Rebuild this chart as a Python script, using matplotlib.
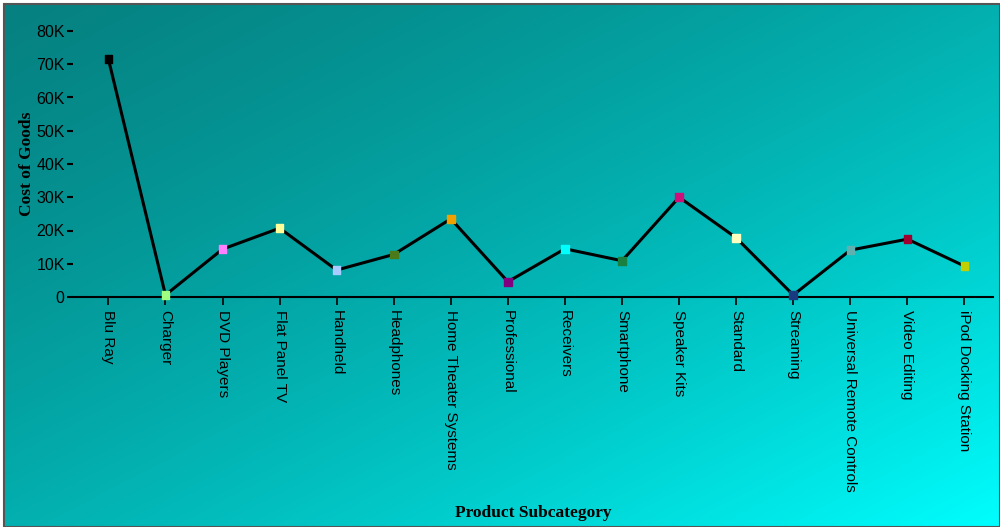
import numpy as np
import matplotlib
matplotlib.use("Agg")
import matplotlib.pyplot as plt
from matplotlib.patches import Rectangle
from matplotlib.ticker import FuncFormatter

# data
subcategories = ["Blu Ray", "Charger", "DVD Players", "Flat Panel TV", "Handheld",
                 "Headphones", "Home Theater Systems", "Professional", "Receivers",
                 "Smartphone", "Speaker Kits", "Standard", "Streaming",
                 "Universal Remote Controls", "Video Editing", "iPod Docking Station"]
cost_of_goods = [71600, 600, 14400, 20700, 8100, 12800, 23500, 4600, 14500,
                 10900, 30000, 17800, 600, 14100, 17400, 9300]
marker_colors = ["#000000", "#a0ff80", "#ff80ff", "#ffff99", "#a8ccff", "#4a7a1a",
                 "#f0a000", "#800080", "#00ffff", "#1a8040", "#d0107a", "#ffffc0",
                 "#1a3a80", "#60b0b0", "#a00030", "#c0d000"]
y_ticks = [0, 10000, 20000, 30000, 40000, 50000, 60000, 70000, 80000]

fig = plt.figure(figsize=(10, 5.27), dpi=100)
fig.patch.set_facecolor("white")

# diagonal teal -> cyan gradient background, inside a thin border
bg = fig.add_axes([0.004, 0, 0.996, 1 - 4 / 527], zorder=-1)
h, w = 200, 400
yy, xx = np.mgrid[0:h, 0:w]
s = (xx / w + yy / h) / 2
g = (128 + 65 * s + 62 * s ** 2) / 255
r = 0.025 * (1 - s)
img = np.dstack([r, g, g])
bg.imshow(np.clip(img, 0, 1), aspect="auto", extent=[0, 1, 0, 1], origin="upper")
bg.set_xlim(0, 1)
bg.set_ylim(0, 1)
bg.axis("off")
bg.add_patch(Rectangle((0, 0), 1, 1, transform=bg.transAxes, fill=False,
                       edgecolor="#555555", lw=1.5, clip_on=False))

ax = fig.add_axes([0.073, 1 - 297 / 527, 0.92, 266 / 527])
ax.patch.set_alpha(0)
x = np.arange(len(subcategories))
ax.plot(x, cost_of_goods, color="black", lw=2.2, zorder=2, clip_on=False)
ax.scatter(x, cost_of_goods, marker="s", s=30, c=marker_colors, zorder=3, clip_on=False)

ax.set_xlim(-0.62, 15.5)
ax.set_ylim(0, 80000)
ax.set_yticks(y_ticks)
ax.yaxis.set_major_formatter(FuncFormatter(lambda v, p: "0" if v == 0 else f"{int(v / 1000)}K"))
ax.set_xticks(x)
ax.set_xticklabels(subcategories, rotation=-90, fontsize=11, family="Liberation Sans")
for lab in ax.get_yticklabels():
    lab.set_family("Liberation Sans")
    lab.set_fontsize(11.5)
ax.tick_params(axis="y", length=4, width=1.5, pad=2, colors="black")
ax.tick_params(axis="x", length=6, width=1.2, pad=3, colors="black")

for sp in ["top", "right", "left"]:
    ax.spines[sp].set_visible(False)
ax.spines["bottom"].set_linewidth(1.5)

ax.set_ylabel("Cost of Goods", fontsize=12.5, fontweight="bold", family="Liberation Serif", labelpad=1)
ax.set_xlabel("Product Subcategory", fontsize=12.5, fontweight="bold", family="Liberation Serif")
ax.xaxis.set_label_coords(0.5, -(505 - 297) / 266)

fig.savefig("out.png", dpi=100)
